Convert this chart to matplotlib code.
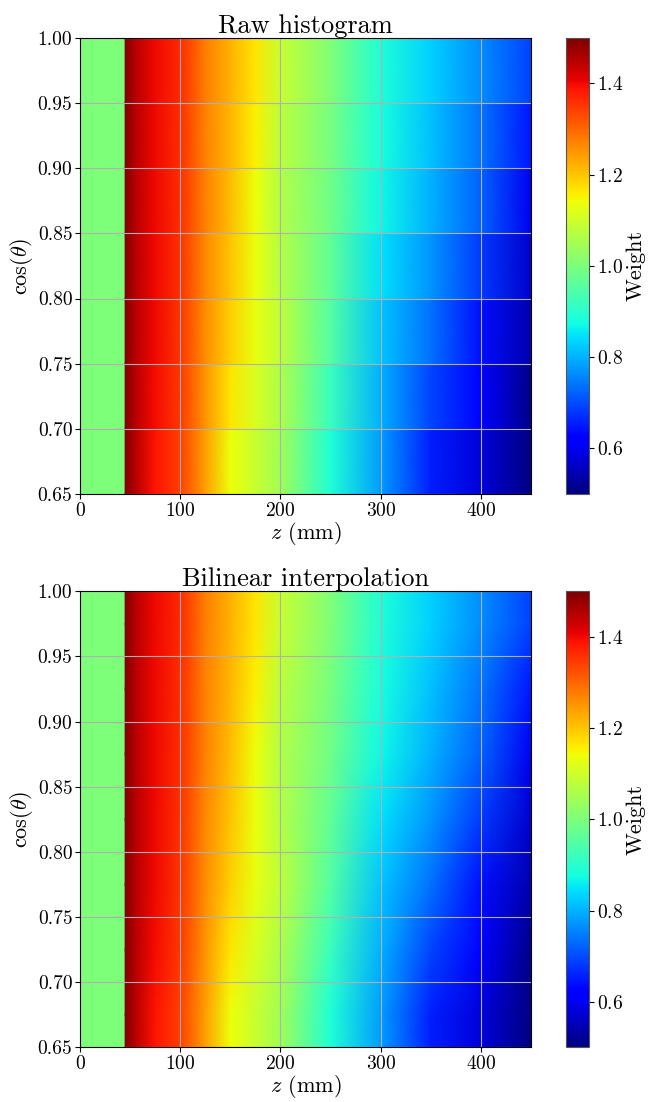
import numpy as np
import matplotlib.pyplot as plt
from matplotlib.ticker import FormatStrFormatter

plt.rcParams['font.family'] = 'serif'
plt.rcParams['font.serif'] = ['cmr10', 'DejaVu Serif']
plt.rcParams['mathtext.fontset'] = 'cm'
plt.rcParams['axes.unicode_minus'] = False
plt.rcParams['axes.formatter.use_mathtext'] = True

# cos(theta) bin edges and z sample points (mm)
cos_edges = [0.65, 0.70, 0.75, 0.80, 0.85, 0.90, 0.95, 1.00]
z_knots = [45, 55, 75, 100, 125, 150, 175, 200, 250, 300, 350, 400, 450]
z_start = 45
z_max = 450
fill_value = 1.0  # weight before the first z bin

# weights per cos(theta) bin, lowest bin first
w_065 = [1.50, 1.45, 1.39, 1.34, 1.24, 1.14, 1.09, 1.045, 0.89, 0.78, 0.656, 0.58, 0.48]
w_070 = [1.50, 1.45, 1.395, 1.35, 1.25, 1.165, 1.11, 1.06, 0.92, 0.80, 0.695, 0.61, 0.51]
w_075 = [1.50, 1.45, 1.40, 1.355, 1.26, 1.19, 1.13, 1.08, 0.95, 0.82, 0.735, 0.64, 0.54]
w_080 = [1.50, 1.45, 1.40, 1.357, 1.265, 1.20, 1.135, 1.07, 0.968, 0.845, 0.77, 0.68, 0.57]
w_085 = [1.50, 1.45, 1.40, 1.36, 1.27, 1.21, 1.14, 1.065, 0.986, 0.87, 0.80, 0.72, 0.60]
w_090 = [1.50, 1.45, 1.40, 1.362, 1.272, 1.215, 1.155, 1.078, 0.995, 0.88, 0.815, 0.742, 0.645]
w_095 = [1.50, 1.45, 1.40, 1.365, 1.275, 1.22, 1.165, 1.09, 1.005, 0.89, 0.83, 0.765, 0.69]

weights = np.array([w_065, w_070, w_075, w_080, w_085, w_090, w_095])

cmap = 'jet'
vmin, vmax = 0.5, 1.5


def draw_raw(ax):
    # each cos(theta) bin drawn as its own strip, shaded along z only
    z = np.array(z_knots)
    for i in range(len(cos_edges) - 1):
        y = np.array([cos_edges[i], cos_edges[i + 1]])
        Z, Y = np.meshgrid(z, y)
        C = np.vstack([weights[i], weights[i]])
        m = ax.pcolormesh(Z, Y, C, shading='gouraud', cmap=cmap, vmin=vmin, vmax=vmax)
    return m


def draw_bilinear(ax):
    # nodes at bin centres, edges clamped to the outer bins
    centres = [(a + b) / 2 for a, b in zip(cos_edges[:-1], cos_edges[1:])]
    y = np.array([cos_edges[0]] + centres + [cos_edges[-1]])
    C = np.vstack([weights[0], weights, weights[-1]])
    Z, Y = np.meshgrid(np.array(z_knots), y)
    return ax.pcolormesh(Z, Y, C, shading='gouraud', cmap=cmap, vmin=vmin, vmax=vmax)


fig = plt.figure(figsize=(6.48, 11.02), dpi=100)
panels = [
    ('Raw histogram', draw_raw, 0.5517),
    ('Bilinear interpolation', draw_bilinear, 0.0495),
]

for title, draw, bottom in panels:
    ax = fig.add_axes([0.1235, bottom, 0.696, 0.414])
    cax = fig.add_axes([0.8735, bottom, 0.0355, 0.414])

    ax.pcolormesh([0, z_start], [cos_edges[0], cos_edges[-1]], [[fill_value]],
                  cmap=cmap, vmin=vmin, vmax=vmax)
    m = draw(ax)

    ax.set_xlim(0, z_max)
    ax.set_ylim(cos_edges[0], cos_edges[-1])
    ax.set_xticks([0, 100, 200, 300, 400])
    ax.set_yticks(cos_edges)
    ax.yaxis.set_major_formatter(FormatStrFormatter('%.2f'))
    ax.tick_params(labelsize=14, pad=2)
    ax.grid(True, color='#b0b0b0', linewidth=0.8)
    ax.set_title(title, fontsize=19, pad=3)
    ax.set_xlabel(r'$z$ (mm)', fontsize=16, labelpad=0)
    ax.set_ylabel(r'$\cos(\theta)$', fontsize=16, labelpad=2)

    cb = fig.colorbar(m, cax=cax)
    cb.set_ticks([0.6, 0.8, 1.0, 1.2, 1.4])
    cb.ax.tick_params(labelsize=14, pad=2)
    cb.outline.set_edgecolor('#555555')
    cb.set_label('Weight', fontsize=16, labelpad=2)

fig.savefig('out.png', dpi=100)
